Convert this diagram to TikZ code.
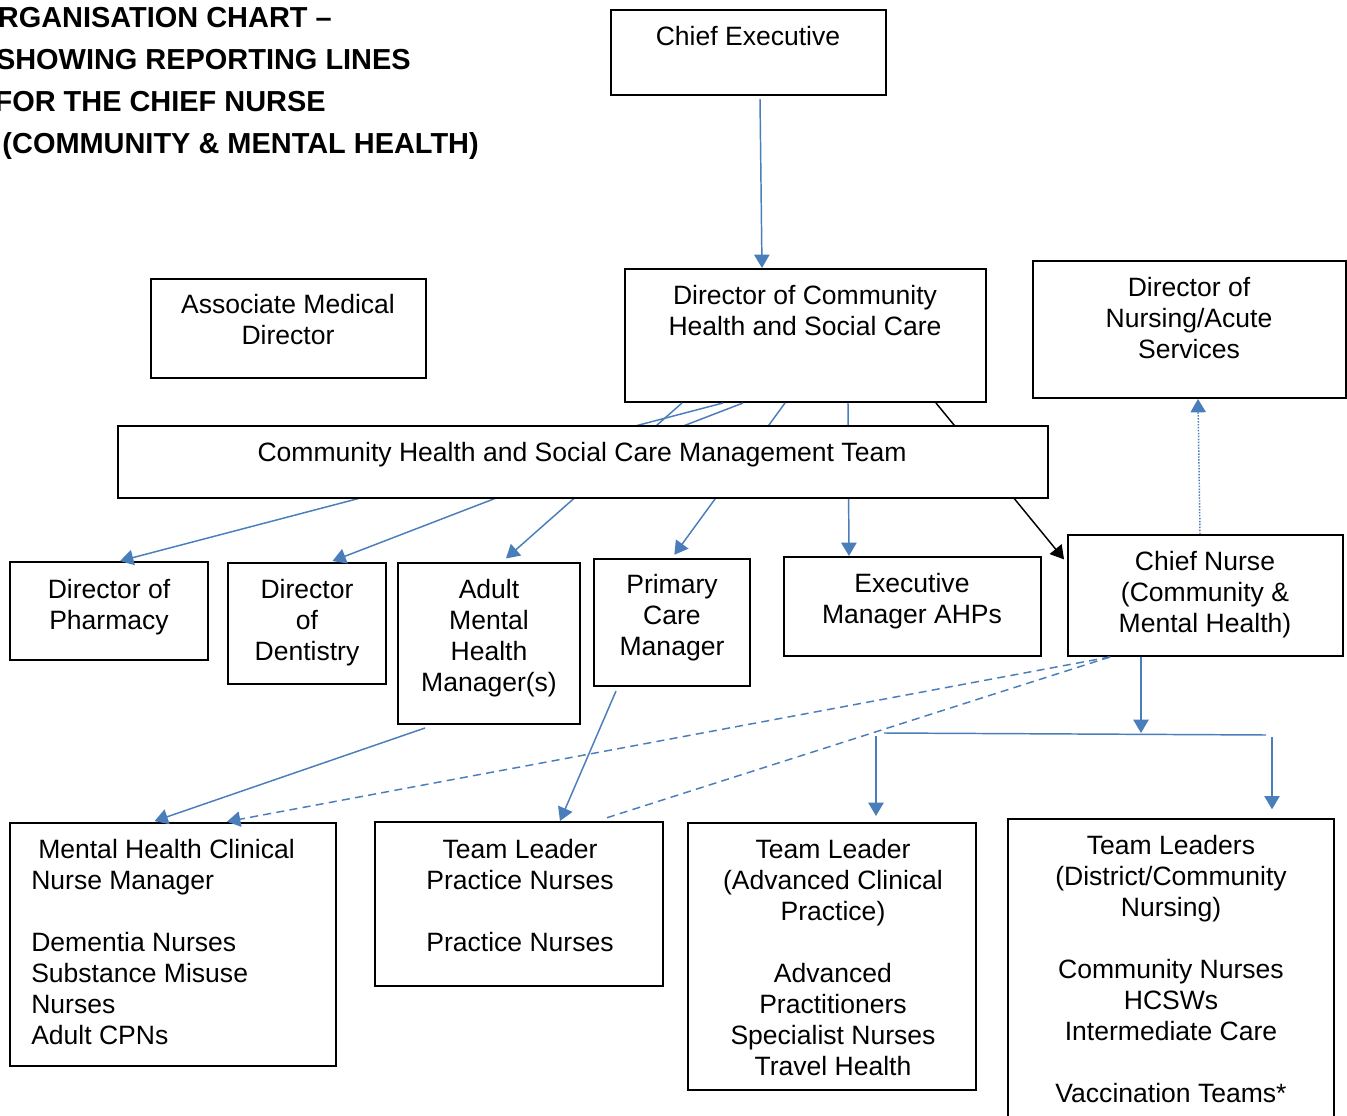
\documentclass[tikz,border=0pt]{standalone}
\usepackage{fontspec}
\setmainfont{Liberation Sans}
\usetikzlibrary{arrows.meta,fit}
\definecolor{wordblue}{HTML}{4A7EBB}
\tikzset{
  box/.style={draw=black, line width=1.5pt, fill=white, inner sep=0pt},
  txt/.style={font=\fontsize{19.9}{23.25}\selectfont, align=center, inner sep=0pt, anchor=north},
  ttl/.style={font=\fontsize{21.7}{25}\selectfont\bfseries, inner sep=0pt, anchor=base east},
  bline/.style={draw=wordblue, line width=1.1pt},
  kline/.style={draw=black, line width=1.1pt},
  tip/.style={-{Triangle[length=10pt,width=11.5pt]}},
  dsh/.style={dash pattern=on 6pt off 4pt},
  dtt/.style={dash pattern=on 1.1pt off 1.1pt},
}
\begin{document}
\begin{tikzpicture}[x=0.75pt,y=-0.75pt]
\useasboundingbox (0,0) rectangle (1347,1116);
\clip (0,0) rectangle (1347,1116);
\fill[white] (0,0) rectangle (1347,1116);

% title
\node[ttl] (t1) at (332,28) {ORGANISATION CHART –};
\node[ttl] (t2) at (411,70) {SHOWING REPORTING LINES};
\node[ttl] (t3) at (326,112) {FOR THE CHIEF NURSE};
\node[ttl] (t4) at (479,154) {(COMMUNITY \& MENTAL HEALTH)};

% top boxes
\node[box, fit={(611,10) (886,95)}] (ce) {};
\node[txt] (ce-t) at (748,26) {Chief Executive};
\node[box, fit={(151,279) (426,378)}] (amd) {};
\node[txt] (amd-t) at (288,294) {Associate Medical\\Director};
\node[box, fit={(625,269) (986,402)}] (dc) {};
\node[txt] (dc-t) at (805,285) {Director of Community\\Health and Social Care};
\node[box, fit={(1033,261) (1346,398)}] (dn) {};
\node[txt] (dn-t) at (1189,277) {Director of\\Nursing/Acute\\Services};

% second row boxes
\node[box, fit={(10,562) (208,660)}] (ph) {};
\node[txt] (ph-t) at (109,579) {Director of\\Pharmacy};
\node[box, fit={(228,563) (386,684)}] (de) {};
\node[txt] (de-t) at (307,579) {Director\\of\\Dentistry};
\node[box, fit={(398,563) (580,724)}] (am) {};
\node[txt] (am-t) at (489,579) {Adult\\Mental\\Health\\Manager(s)};
\node[box, fit={(594,559) (750,686)}] (pc) {};
\node[txt] (pc-t) at (672,574) {Primary\\Care\\Manager};
\node[box, fit={(784,557) (1041,656)}] (ah) {};
\node[txt] (ah-t) at (912,573) {Executive\\Manager AHPs};
\node[box, fit={(1068,535) (1343,656)}] (cn) {};
\node[txt] (cn-t) at (1205,551) {Chief Nurse\\(Community \&\\Mental Health)};

% bottom row boxes
\node[box, fit={(10,823) (336,1066)}] (mh) {};
\node[txt, align=left, anchor=north west] (mh-t) at (31,839)
  {\hspace*{5.25pt}Mental Health Clinical\\Nurse Manager\\[23.25pt]Dementia Nurses\\Substance Misuse\\Nurses\\Adult CPNs};
\node[box, fit={(375,822) (663,986)}] (pn) {};
\node[txt] (pn-t) at (520,839) {Team Leader\\Practice Nurses\\[23.25pt]Practice Nurses};
\node[box, fit={(688,823) (976,1090)}] (acp) {};
\node[txt] (acp-t) at (833,839) {Team Leader\\(Advanced Clinical\\Practice)\\[23.25pt]Advanced\\Practitioners\\Specialist Nurses\\Travel Health};
\node[box, fit={(1008,819) (1334,1140)}] (dcn) {};
\node[txt] (dcn-t) at (1171,835) {Team Leaders\\(District/Community\\Nursing)\\[23.25pt]Community Nurses\\HCSWs\\Intermediate Care\\[23.25pt]Vaccination Teams*};

% connectors from Director of Community (pass behind management team)
\draw[bline,tip] (760,0 |- ce.south) ++(0,3) -- (762,0 |- dc.north);
\draw[bline,tip] (723,0 |- dc.south) -- (120,0 |- ph.north);
\draw[bline,tip,shorten >=2pt] (743,0 |- dc.south) -- (330,0 |- de.north);
\draw[bline,tip,shorten >=4pt] (682,0 |- dc.south) -- (502,0 |- am.north);
\draw[bline,tip,shorten >=3pt] (785,0 |- dc.south) -- (672,0 |- pc.north);
\draw[bline,tip] (848,0 |- dc.south) -- (849,0 |- ah.north);
\draw[kline,tip,shorten >=3.5pt] (936,0 |- dc.south) -- (cn.west |- 0,563);

% management team box on top
\node[box, fit={(118,426) (1048,498)}] (mt) {};
\node[txt] (mt-t) at (582,442) {Community Health and Social Care Management Team};

% lower connectors
\draw[bline,dtt,tip] (1200,0 |- cn.north) -- (1198,0 |- dn.south);
\draw[bline,tip,shorten >=2pt] (425,0 |- am.south) ++(0,3) -- (152,0 |- mh.north);
\draw[bline,tip] (616,0 |- pc.south) ++(0,4) -- (560,0 |- pn.north);
\draw[bline,dsh,tip,shorten >=1.5pt] (1110,0 |- cn.south) -- (225,0 |- mh.north);
\coordinate (pnend) at (603,819);
\draw[bline,dsh] (1110,0 |- cn.south) -- (pnend);

\coordinate (jn) at (1141,733);
\coordinate (hl) at (884,733);
\coordinate (hr) at (1266,735);
\draw[bline,tip] (1141,0 |- cn.south) -- (jn);
\draw[bline] (hl) -- (hr);
\draw[bline,tip,shorten >=4.5pt] (876,736) -- (876,0 |- acp.north);
\draw[bline,tip,shorten >=6.5pt] (1272,737) -- (1272,0 |- dcn.north);
\end{tikzpicture}
\end{document}
